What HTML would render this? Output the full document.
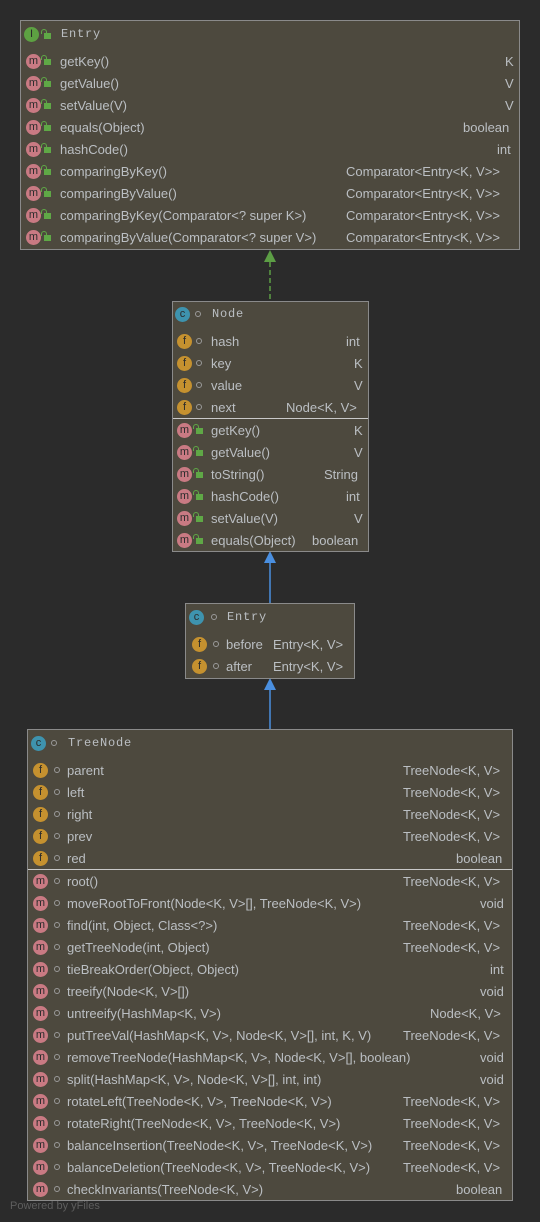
<!DOCTYPE html>
<html><head><meta charset="utf-8"><style>
body{margin:0;width:540px;height:1222px;background:#2b2b2b;position:relative;overflow:hidden;font-family:"Liberation Sans",sans-serif;font-size:13px;color:#bbbfc3}
.b{position:absolute;background:#4d493e;border:1px solid #8a8a8a;box-sizing:border-box}
.t{position:absolute;white-space:nowrap;line-height:15px}
.h{font-family:"Liberation Mono",monospace;font-size:12px;letter-spacing:0.8px}
.i{position:absolute;width:15px;height:15px;border-radius:50%;font-size:11px;line-height:15px;text-align:center;color:#2b2b2b;font-family:"Liberation Sans",sans-serif}
.m{background:#c97a83}.f{background:#c5912f}.c{background:#3e93ae}.I{background:#5da142}
.l{position:absolute;width:7px;height:6px;background:#5fa846}
.l:before{content:"";position:absolute;left:-3px;top:-4px;width:4px;height:4px;border:1.5px solid #5fa846;border-bottom:none;border-radius:3px 3px 0 0}
.d{position:absolute;width:4px;height:4px;border:1.2px solid #9a9a9a;border-radius:50%}
.s{position:absolute;height:1px;background:#c9c9c9}
</style></head><body>
<svg width="540" height="1222" style="position:absolute;left:0;top:0">
<line x1="270" y1="262" x2="270" y2="301" stroke="#5c9e45" stroke-width="1.5" stroke-dasharray="5,3"/>
<polygon points="270,250 264,262 276,262" fill="#5c9e45"/>
<line x1="270" y1="563" x2="270" y2="604" stroke="#4a8fe0" stroke-width="1.5"/>
<polygon points="270,551 264,563 276,563" fill="#4a8fe0"/>
<line x1="270" y1="690" x2="270" y2="730" stroke="#4a8fe0" stroke-width="1.5"/>
<polygon points="270,678 264,690 276,690" fill="#4a8fe0"/>
</svg>

<div class="b" style="left:20px;top:20px;width:500px;height:230px"></div>
<div class="i I" style="left:24px;top:27px">I</div><div class="l" style="left:44px;top:33px"></div><div class="t h" style="left:61px;top:27px">Entry</div>
<div class="i m" style="left:26px;top:54px">m</div><div class="l" style="left:44px;top:59px"></div><div class="t" style="left:60px;top:54px">getKey()</div><div class="t" style="left:505px;top:54px">K</div>
<div class="i m" style="left:26px;top:76px">m</div><div class="l" style="left:44px;top:81px"></div><div class="t" style="left:60px;top:76px">getValue()</div><div class="t" style="left:505px;top:76px">V</div>
<div class="i m" style="left:26px;top:98px">m</div><div class="l" style="left:44px;top:103px"></div><div class="t" style="left:60px;top:98px">setValue(V)</div><div class="t" style="left:505px;top:98px">V</div>
<div class="i m" style="left:26px;top:120px">m</div><div class="l" style="left:44px;top:125px"></div><div class="t" style="left:60px;top:120px">equals(Object)</div><div class="t" style="left:463px;top:120px">boolean</div>
<div class="i m" style="left:26px;top:142px">m</div><div class="l" style="left:44px;top:147px"></div><div class="t" style="left:60px;top:142px">hashCode()</div><div class="t" style="left:497px;top:142px">int</div>
<div class="i m" style="left:26px;top:164px">m</div><div class="l" style="left:44px;top:169px"></div><div class="t" style="left:60px;top:164px">comparingByKey()</div><div class="t" style="left:346px;top:164px">Comparator&lt;Entry&lt;K, V&gt;&gt;</div>
<div class="i m" style="left:26px;top:186px">m</div><div class="l" style="left:44px;top:191px"></div><div class="t" style="left:60px;top:186px">comparingByValue()</div><div class="t" style="left:346px;top:186px">Comparator&lt;Entry&lt;K, V&gt;&gt;</div>
<div class="i m" style="left:26px;top:208px">m</div><div class="l" style="left:44px;top:213px"></div><div class="t" style="left:60px;top:208px">comparingByKey(Comparator&lt;? super K&gt;)</div><div class="t" style="left:346px;top:208px">Comparator&lt;Entry&lt;K, V&gt;&gt;</div>
<div class="i m" style="left:26px;top:230px">m</div><div class="l" style="left:44px;top:235px"></div><div class="t" style="left:60px;top:230px">comparingByValue(Comparator&lt;? super V&gt;)</div><div class="t" style="left:346px;top:230px">Comparator&lt;Entry&lt;K, V&gt;&gt;</div>

<div class="b" style="left:172px;top:301px;width:197px;height:251px"></div>
<div class="i c" style="left:175px;top:307px">c</div><div class="d" style="left:195px;top:311px"></div><div class="t h" style="left:212px;top:307px">Node</div>
<div class="i f" style="left:177px;top:334px">f</div><div class="d" style="left:196px;top:338px"></div><div class="t" style="left:211px;top:334px">hash</div><div class="t" style="left:346px;top:334px">int</div>
<div class="i f" style="left:177px;top:356px">f</div><div class="d" style="left:196px;top:360px"></div><div class="t" style="left:211px;top:356px">key</div><div class="t" style="left:354px;top:356px">K</div>
<div class="i f" style="left:177px;top:378px">f</div><div class="d" style="left:196px;top:382px"></div><div class="t" style="left:211px;top:378px">value</div><div class="t" style="left:354px;top:378px">V</div>
<div class="i f" style="left:177px;top:400px">f</div><div class="d" style="left:196px;top:404px"></div><div class="t" style="left:211px;top:400px">next</div><div class="t" style="left:286px;top:400px">Node&lt;K, V&gt;</div>
<div class="s" style="left:173px;top:418px;width:195px"></div>
<div class="i m" style="left:177px;top:423px">m</div><div class="l" style="left:196px;top:428px"></div><div class="t" style="left:211px;top:423px">getKey()</div><div class="t" style="left:354px;top:423px">K</div>
<div class="i m" style="left:177px;top:445px">m</div><div class="l" style="left:196px;top:450px"></div><div class="t" style="left:211px;top:445px">getValue()</div><div class="t" style="left:354px;top:445px">V</div>
<div class="i m" style="left:177px;top:467px">m</div><div class="l" style="left:196px;top:472px"></div><div class="t" style="left:211px;top:467px">toString()</div><div class="t" style="left:324px;top:467px">String</div>
<div class="i m" style="left:177px;top:489px">m</div><div class="l" style="left:196px;top:494px"></div><div class="t" style="left:211px;top:489px">hashCode()</div><div class="t" style="left:346px;top:489px">int</div>
<div class="i m" style="left:177px;top:511px">m</div><div class="l" style="left:196px;top:516px"></div><div class="t" style="left:211px;top:511px">setValue(V)</div><div class="t" style="left:354px;top:511px">V</div>
<div class="i m" style="left:177px;top:533px">m</div><div class="l" style="left:196px;top:538px"></div><div class="t" style="left:211px;top:533px">equals(Object)</div><div class="t" style="left:312px;top:533px">boolean</div>

<div class="b" style="left:185px;top:603px;width:170px;height:76px"></div>
<div class="i c" style="left:189px;top:610px">c</div><div class="d" style="left:211px;top:614px"></div><div class="t h" style="left:227px;top:610px">Entry</div>
<div class="i f" style="left:192px;top:637px">f</div><div class="d" style="left:213px;top:641px"></div><div class="t" style="left:226px;top:637px">before</div><div class="t" style="left:273px;top:637px">Entry&lt;K, V&gt;</div>
<div class="i f" style="left:192px;top:659px">f</div><div class="d" style="left:213px;top:663px"></div><div class="t" style="left:226px;top:659px">after</div><div class="t" style="left:273px;top:659px">Entry&lt;K, V&gt;</div>

<div class="b" style="left:27px;top:729px;width:486px;height:472px"></div>
<div class="i c" style="left:31px;top:736px">c</div><div class="d" style="left:51px;top:740px"></div><div class="t h" style="left:68px;top:736px">TreeNode</div>
<div class="i f" style="left:33px;top:763px">f</div><div class="d" style="left:54px;top:767px"></div><div class="t" style="left:67px;top:763px">parent</div><div class="t" style="left:403px;top:763px">TreeNode&lt;K, V&gt;</div>
<div class="i f" style="left:33px;top:785px">f</div><div class="d" style="left:54px;top:789px"></div><div class="t" style="left:67px;top:785px">left</div><div class="t" style="left:403px;top:785px">TreeNode&lt;K, V&gt;</div>
<div class="i f" style="left:33px;top:807px">f</div><div class="d" style="left:54px;top:811px"></div><div class="t" style="left:67px;top:807px">right</div><div class="t" style="left:403px;top:807px">TreeNode&lt;K, V&gt;</div>
<div class="i f" style="left:33px;top:829px">f</div><div class="d" style="left:54px;top:833px"></div><div class="t" style="left:67px;top:829px">prev</div><div class="t" style="left:403px;top:829px">TreeNode&lt;K, V&gt;</div>
<div class="i f" style="left:33px;top:851px">f</div><div class="d" style="left:54px;top:855px"></div><div class="t" style="left:67px;top:851px">red</div><div class="t" style="left:456px;top:851px">boolean</div>
<div class="s" style="left:28px;top:869px;width:484px"></div>
<div class="i m" style="left:33px;top:874px">m</div><div class="d" style="left:54px;top:878px"></div><div class="t" style="left:67px;top:874px">root()</div><div class="t" style="left:403px;top:874px">TreeNode&lt;K, V&gt;</div>
<div class="i m" style="left:33px;top:896px">m</div><div class="d" style="left:54px;top:900px"></div><div class="t" style="left:67px;top:896px">moveRootToFront(Node&lt;K, V&gt;[], TreeNode&lt;K, V&gt;)</div><div class="t" style="left:480px;top:896px">void</div>
<div class="i m" style="left:33px;top:918px">m</div><div class="d" style="left:54px;top:922px"></div><div class="t" style="left:67px;top:918px">find(int, Object, Class&lt;?&gt;)</div><div class="t" style="left:403px;top:918px">TreeNode&lt;K, V&gt;</div>
<div class="i m" style="left:33px;top:940px">m</div><div class="d" style="left:54px;top:944px"></div><div class="t" style="left:67px;top:940px">getTreeNode(int, Object)</div><div class="t" style="left:403px;top:940px">TreeNode&lt;K, V&gt;</div>
<div class="i m" style="left:33px;top:962px">m</div><div class="d" style="left:54px;top:966px"></div><div class="t" style="left:67px;top:962px">tieBreakOrder(Object, Object)</div><div class="t" style="left:490px;top:962px">int</div>
<div class="i m" style="left:33px;top:984px">m</div><div class="d" style="left:54px;top:988px"></div><div class="t" style="left:67px;top:984px">treeify(Node&lt;K, V&gt;[])</div><div class="t" style="left:480px;top:984px">void</div>
<div class="i m" style="left:33px;top:1006px">m</div><div class="d" style="left:54px;top:1010px"></div><div class="t" style="left:67px;top:1006px">untreeify(HashMap&lt;K, V&gt;)</div><div class="t" style="left:430px;top:1006px">Node&lt;K, V&gt;</div>
<div class="i m" style="left:33px;top:1028px">m</div><div class="d" style="left:54px;top:1032px"></div><div class="t" style="left:67px;top:1028px">putTreeVal(HashMap&lt;K, V&gt;, Node&lt;K, V&gt;[], int, K, V)</div><div class="t" style="left:403px;top:1028px">TreeNode&lt;K, V&gt;</div>
<div class="i m" style="left:33px;top:1050px">m</div><div class="d" style="left:54px;top:1054px"></div><div class="t" style="left:67px;top:1050px">removeTreeNode(HashMap&lt;K, V&gt;, Node&lt;K, V&gt;[], boolean)</div><div class="t" style="left:480px;top:1050px">void</div>
<div class="i m" style="left:33px;top:1072px">m</div><div class="d" style="left:54px;top:1076px"></div><div class="t" style="left:67px;top:1072px">split(HashMap&lt;K, V&gt;, Node&lt;K, V&gt;[], int, int)</div><div class="t" style="left:480px;top:1072px">void</div>
<div class="i m" style="left:33px;top:1094px">m</div><div class="d" style="left:54px;top:1098px"></div><div class="t" style="left:67px;top:1094px">rotateLeft(TreeNode&lt;K, V&gt;, TreeNode&lt;K, V&gt;)</div><div class="t" style="left:403px;top:1094px">TreeNode&lt;K, V&gt;</div>
<div class="i m" style="left:33px;top:1116px">m</div><div class="d" style="left:54px;top:1120px"></div><div class="t" style="left:67px;top:1116px">rotateRight(TreeNode&lt;K, V&gt;, TreeNode&lt;K, V&gt;)</div><div class="t" style="left:403px;top:1116px">TreeNode&lt;K, V&gt;</div>
<div class="i m" style="left:33px;top:1138px">m</div><div class="d" style="left:54px;top:1142px"></div><div class="t" style="left:67px;top:1138px">balanceInsertion(TreeNode&lt;K, V&gt;, TreeNode&lt;K, V&gt;)</div><div class="t" style="left:403px;top:1138px">TreeNode&lt;K, V&gt;</div>
<div class="i m" style="left:33px;top:1160px">m</div><div class="d" style="left:54px;top:1164px"></div><div class="t" style="left:67px;top:1160px">balanceDeletion(TreeNode&lt;K, V&gt;, TreeNode&lt;K, V&gt;)</div><div class="t" style="left:403px;top:1160px">TreeNode&lt;K, V&gt;</div>
<div class="i m" style="left:33px;top:1182px">m</div><div class="d" style="left:54px;top:1186px"></div><div class="t" style="left:67px;top:1182px">checkInvariants(TreeNode&lt;K, V&gt;)</div><div class="t" style="left:456px;top:1182px">boolean</div>

<div class="t" style="left:10px;top:1199px;font-size:11px;color:#5e5e5e">Powered by yFiles</div>
</body></html>
